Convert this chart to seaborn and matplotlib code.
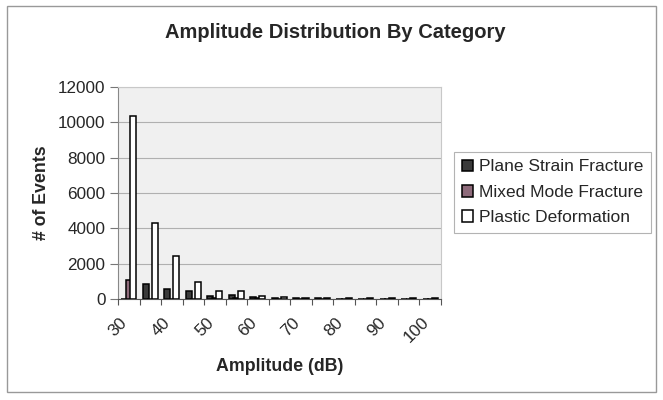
import matplotlib
matplotlib.use("Agg")
import matplotlib.pyplot as plt
import matplotlib.transforms as mtransforms
from matplotlib.patches import Rectangle
import pandas as pd
import seaborn as sns

# Amplitude bins (dB) and event counts per failure category
amplitudes = [30, 35, 40, 45, 50, 55, 60, 65, 70, 75, 80, 85, 90, 95, 100]
plane_strain = [0, 850, 580, 470, 150, 250, 100, 60, 40, 30, 20, 20, 15, 15, 10]
mixed_mode = [1100, 0, 0, 0, 60, 60, 40, 20, 10, 10, 10, 5, 5, 5, 5]
plastic = [10350, 4320, 2430, 980, 430, 430, 170, 90, 60, 50, 40, 35, 30, 40, 30]

series_names = ["Plane Strain Fracture", "Mixed Mode Fracture", "Plastic Deformation"]
series_values = [plane_strain, mixed_mode, plastic]
y_ticks = [0, 2000, 4000, 6000, 8000, 10000, 12000]
x_labels = ["30", "40", "50", "60", "70", "80", "90", "100"]

rows = []
for name, vals in zip(series_names, series_values):
    for a, v in zip(amplitudes, vals):
        rows.append({"Amplitude": str(a), "Category": name, "Events": v})
df = pd.DataFrame(rows)

sns.set_style("white")
plt.rcParams["font.family"] = ["Liberation Sans", "DejaVu Sans"]

fig = plt.figure(figsize=(6.63, 4.0), dpi=100)
ax = fig.add_axes([0.178, 0.2525, 0.487, 0.530])

palette = {
    "Plane Strain Fracture": "#3a3a3a",
    "Mixed Mode Fracture": "#8e6b7b",
    "Plastic Deformation": "#ffffff",
}
sns.barplot(
    data=df, x="Amplitude", y="Events", hue="Category",
    order=[str(a) for a in amplitudes], hue_order=series_names,
    palette=palette, width=0.63, edgecolor="black", linewidth=1.1,
    saturation=1, ax=ax, legend=True,
)

# Slightly overlapping bars within each group
bar_w = 0.28
for cont in ax.containers:
    for p in cont.patches:
        c = p.get_x() + p.get_width() / 2
        p.set_width(bar_w)
        p.set_x(c - bar_w / 2)

ax.set_facecolor("#f0f0f0")
ax.set_ylim(0, 12000)
ax.set_xlim(-0.5, len(amplitudes) - 0.5)
ax.set_yticks(y_ticks)
ax.set_yticklabels([str(t) for t in y_ticks], fontsize=12.3)
ax.yaxis.grid(True, color="#b0b0b0", linewidth=0.8)
ax.set_axisbelow(True)

# Category labels every other bin, tick marks on bin boundaries
ax.set_xticks(range(0, len(amplitudes), 2))
ax.set_xticklabels(x_labels, rotation=45, ha="right", rotation_mode="anchor",
                   fontsize=12.3)
ax.set_xticks([i - 0.5 for i in range(len(amplitudes) + 1)], minor=True)
ax.tick_params(axis="x", which="major", length=0, pad=12)
ax.tick_params(axis="x", which="minor", length=4, width=0.8, color="#555555",
               direction="out", bottom=True)
ax.tick_params(axis="y", length=6, width=0.8, color="#777777", left=True,
               direction="out", pad=3)
shift = mtransforms.ScaledTranslation(-9 / 100, 1 / 100, fig.dpi_scale_trans)
for lbl in ax.get_xticklabels():
    lbl.set_transform(lbl.get_transform() + shift)

for side in ["top", "right"]:
    ax.spines[side].set_color("#c8c8c8")
    ax.spines[side].set_linewidth(0.8)
ax.spines["left"].set_color("#888888")
ax.spines["bottom"].set_color("#555555")
ax.spines["left"].set_linewidth(0.8)
ax.spines["bottom"].set_linewidth(0.8)

ax.set_xlabel("Amplitude (dB)", fontsize=12.8, fontweight="bold", labelpad=9)
ax.set_ylabel("# of Events", fontsize=12.8, fontweight="bold", labelpad=6)

fig.text(0.505, 0.92, "Amplitude Distribution By Category",
         ha="center", va="center", fontsize=14.5, fontweight="bold")

leg = ax.legend(loc="upper left", bbox_to_anchor=(1.04, 0.695), frameon=True,
                fontsize=12.5, handlelength=0.65, handleheight=0.65,
                handletextpad=0.35, borderpad=0.45, labelspacing=0.6,
                borderaxespad=0, fancybox=False, edgecolor="#a0a0a0", title=None)
leg.get_frame().set_linewidth(0.8)

# Chart-area border
fig.patches.append(Rectangle((0.011, 0.02), 0.978, 0.965, transform=fig.transFigure,
                             fill=False, edgecolor="#999999", linewidth=1.0))

fig.savefig("out.png", dpi=100)
